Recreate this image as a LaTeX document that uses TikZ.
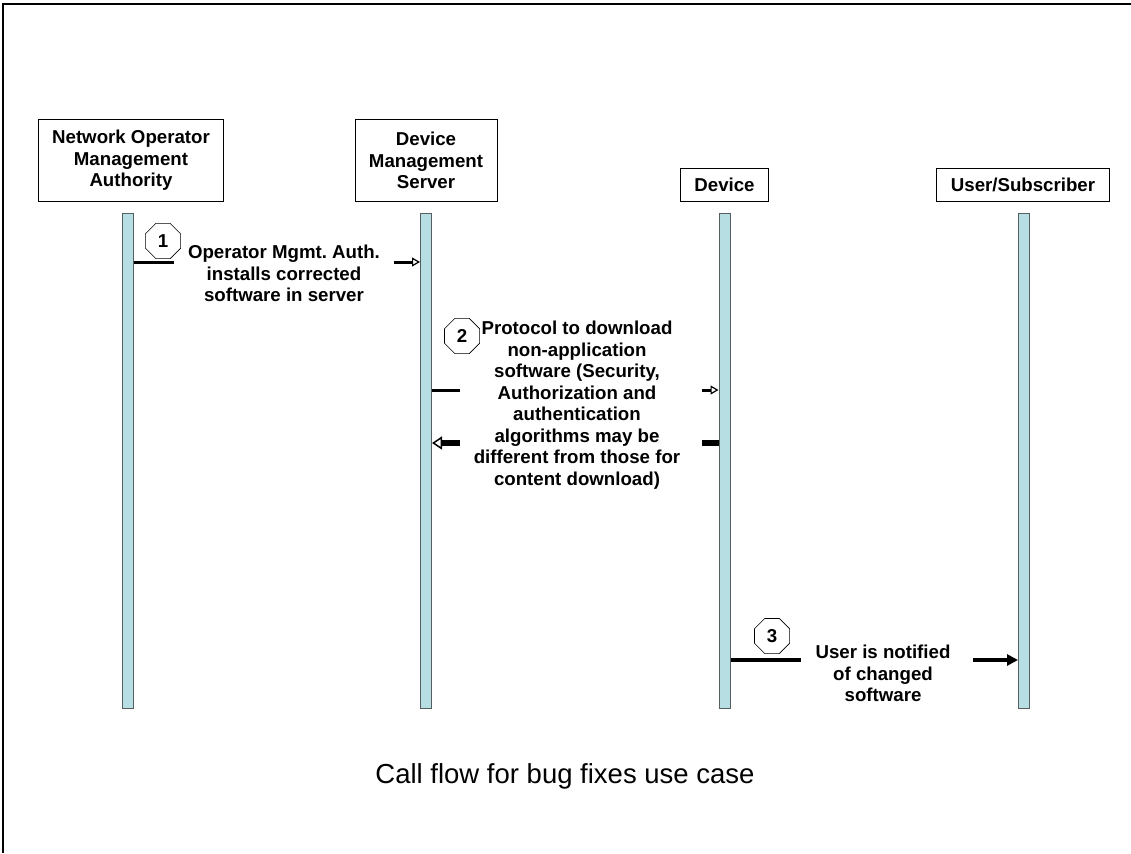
\documentclass[tikz,border=0pt]{standalone}
\usepackage{fontspec}
\setmainfont{Liberation Sans}
\usetikzlibrary{shapes.geometric,arrows.meta,positioning,calc}
\definecolor{barblue}{RGB}{183,222,226}
\definecolor{bargray}{RGB}{85,95,95}
\newcommand{\lblfont}{\fontsize{18.67}{21.5}\selectfont\bfseries}
\frenchspacing

\begin{document}
\begin{tikzpicture}[x=1pt, y=-1pt,
    actor/.style={draw, rectangle, align=center, inner xsep=14pt, line width=0.8pt, font=\lblfont},
    life/.style={draw=bargray, fill=barblue, rectangle, minimum width=11pt, minimum height=495pt, inner sep=0pt, line width=1pt},
    msgtext/.style={align=center, inner xsep=14pt, inner ysep=0pt, font=\lblfont},
    stepno/.style={draw, regular polygon, regular polygon sides=8, minimum size=38pt, inner sep=0pt, line width=0.6pt, font=\lblfont},
    msg/.style={line width=3pt},
    opentip/.style={-{Triangle[open, length=8pt, width=9pt, line width=1.2pt]}}]
                \useasboundingbox (0,0) rectangle (1131,853);
                \draw[line width=2.5pt] (3,853) -- (3,4) -- (1131,4);

                % actors and lifelines
                \node[actor, anchor=south, minimum height=82pt] (nom) at (131,202) {Network Operator\\Management\\Authority};
                \node[actor, anchor=south, minimum height=82pt] (dms) at (426,202) {Device\\Management\\Server};
                \node[actor, anchor=south, minimum height=33pt] (dev) at (724.5,202) {Device};
                \node[actor, anchor=south, minimum height=33pt] (usr) at (1023,202) {User/Subscriber};
                \node[life, anchor=north] (l1) at (127.5,213) {};
                \node[life, anchor=north] (l2) at (426,213) {};
                \node[life, anchor=north] (l3) at (724.5,213) {};
                \node[life, anchor=north] (l4) at (1024,213) {};

                % message texts
                \node[msgtext, anchor=north] (t1) at (284,245) {Operator Mgmt. Auth.\\installs corrected\\software in server};
                \node[msgtext, anchor=north] (t2) at (577,321) {Protocol to download\\non-application\\software (Security,\\Authorization and\\authentication\\algorithms may be\\different from those for\\content download)};
                \node[msgtext, anchor=north] (t3) at (883,645) {User is notified\\of changed\\software};
                \node[stepno] (s1) at (163,241) {1};
                \node[stepno] (s2) at (462,336) {2};
                \node[stepno] (s3) at (772,636) {3};

                \coordinate (m1) at (0,262);
                \coordinate (m2) at (0,390);
                \coordinate (m3) at (0,443);
                \coordinate (m4) at (0,660);

                \draw[msg] (l1.east |- m1) -- (t1.west |- m1);
                \draw[msg, opentip] (t1.east |- m1) -- (l2.west |- m1);
                \draw[msg] (l2.east |- m2) -- (t2.west |- m2);
                \draw[msg, opentip] ([xshift=8pt]t2.east |- m2) -- (l3.west |- m2);
                \draw[line width=6.5pt] (l3.west |- m3) -- ([xshift=8pt]t2.east |- m3);
                \draw[line width=6.5pt, -{Triangle[open, length=10pt, width=13pt, line width=1.5pt]}] (t2.west |- m3) -- (l2.east |- m3);
                \draw[line width=4pt] (l3.east |- m4) -- (t3.west |- m4);
                \draw[line width=4pt, -{Triangle[length=11pt, width=11pt]}] ([xshift=8pt]t3.east |- m4) -- (l4.west |- m4);

                \node[font=\fontsize{27.5}{32}\selectfont, anchor=base] (cap) at (565,783) {Call flow for bug fixes use case};
            \end{tikzpicture}
\end{document}
